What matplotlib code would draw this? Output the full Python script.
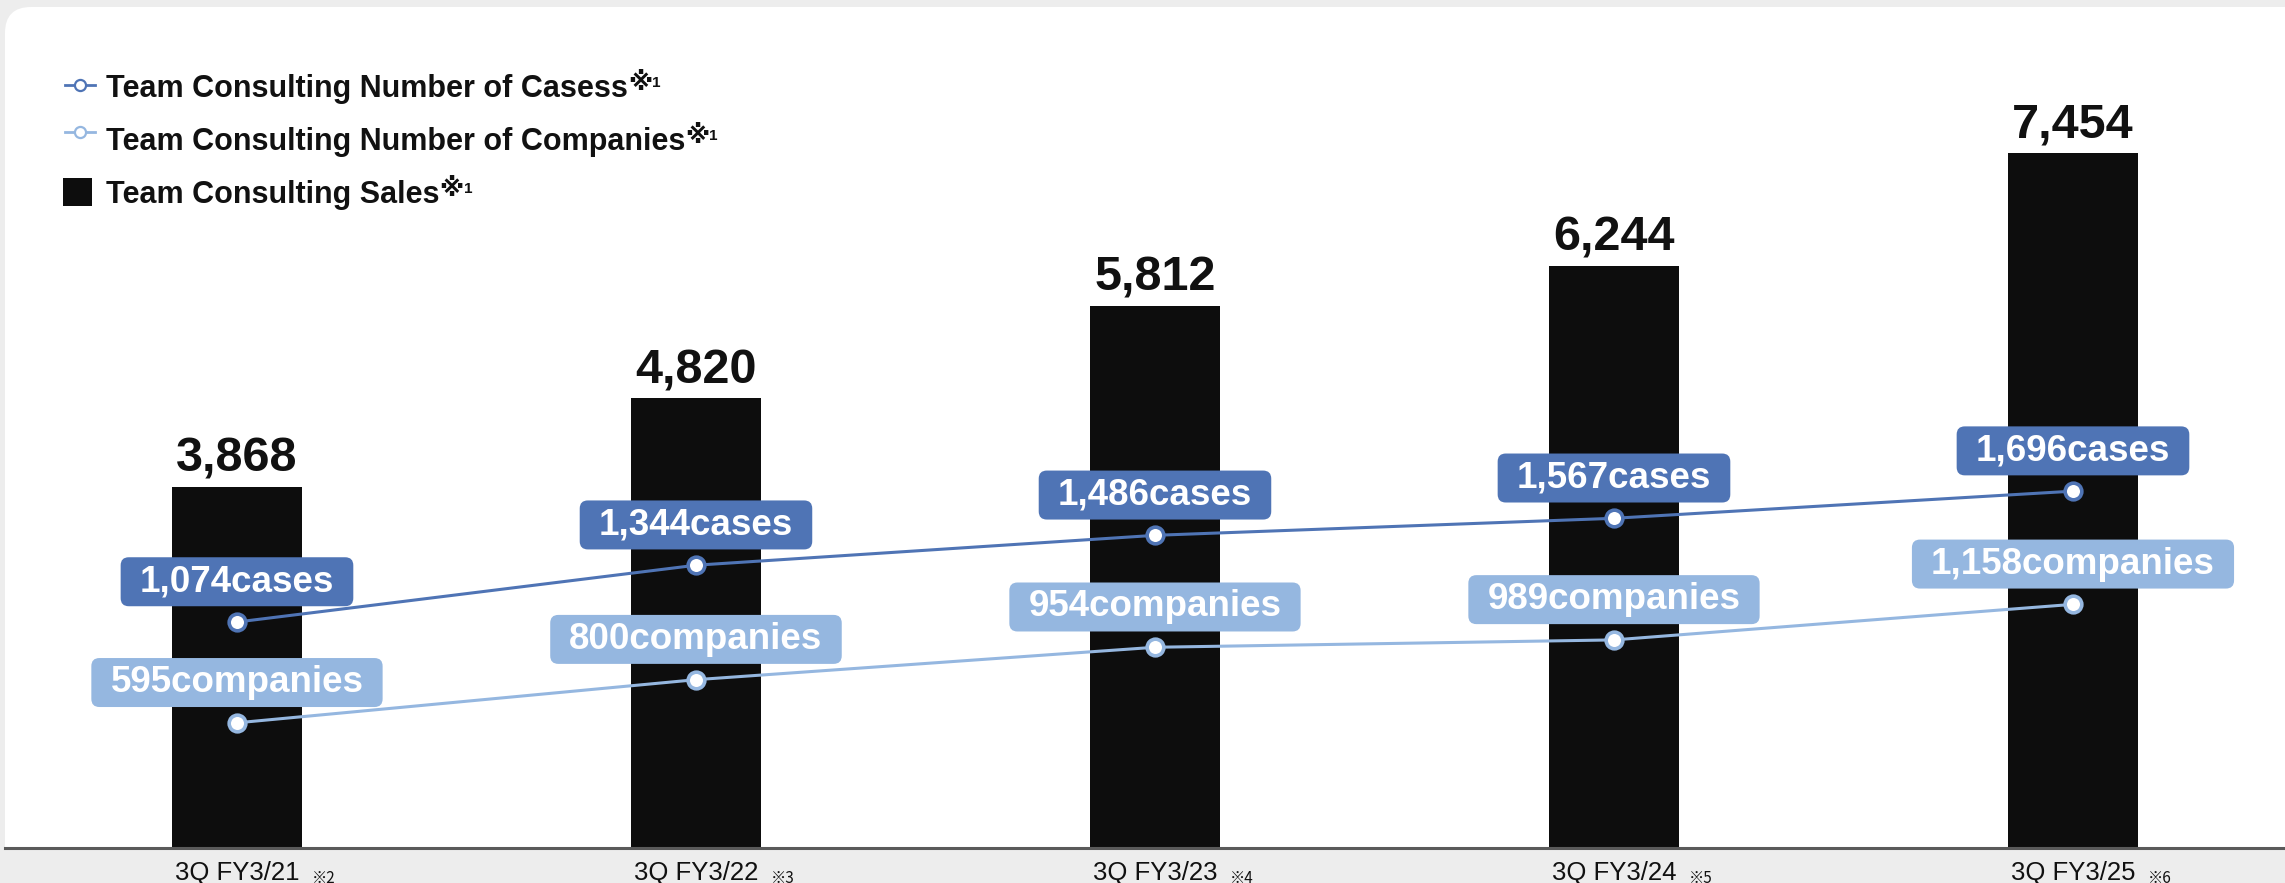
import matplotlib.pyplot as plt
from matplotlib.patches import FancyBboxPatch, Rectangle, BoxStyle
from matplotlib.lines import Line2D
from matplotlib.transforms import IdentityTransform

categories = ['3Q FY3/21', '3Q FY3/22', '3Q FY3/23', '3Q FY3/24', '3Q FY3/25']
notes = ['※2', '※3', '※4', '※5', '※6']
sales = [3868, 4820, 5812, 6244, 7454]
cases = [1074, 1344, 1486, 1567, 1696]
companies = [595, 800, 954, 989, 1158]

DARK = '#4f74b5'
LIGHT = '#95b7e0'
BAR = '#0d0d0d'
BG = '#ededed'
INK = '#111111'
CJK = ['Noto Sans CJK JP', 'DejaVu Sans']

plt.rcParams['font.family'] = ['Liberation Sans', 'DejaVu Sans']

W, H = 2285, 883
base = 848          # pixel row of the x axis line
top = 7             # top edge of the white panel

fig = plt.figure(figsize=(W / 100, H / 100), dpi=100, facecolor=BG)

# white rounded panel, with the strip under the axis painted back to grey
fig.add_artist(FancyBboxPatch((5, -20), W + 60, H - top + 20,
                              boxstyle='round,pad=0,rounding_size=26',
                              transform=IdentityTransform(), fc='white',
                              ec='none', zorder=-3))
fig.add_artist(Rectangle((0, 0), W, H - base, transform=IdentityTransform(),
                         fc=BG, ec='none', zorder=-2))


def label_box(x0, y0, width, height, mutation_size):
    # rounded box with more room left/right than top/bottom
    padx, pady = 0.52 * mutation_size, 0.19 * mutation_size
    rounded = BoxStyle.Round(pad=0, rounding_size=0.22)
    return rounded(x0 - padx, y0 - pady, width + 2 * padx,
                   height + 2 * pady, mutation_size)


ax = fig.add_axes([5 / W, (H - base) / H, (W - 5) / W, (base - top) / H])
ax.patch.set_visible(False)
x = list(range(len(categories)))

ax.bar(x, sales, width=0.285, color=BAR, zorder=2)
ax.set_xlim(-0.5054, 4.4619)
ax.set_ylim(0, 9017)
for i, v in enumerate(sales):
    ax.annotate(f'{v:,}', (i, v), xytext=(0, 11), textcoords='offset points',
                ha='center', va='baseline', fontsize=35, fontweight='bold',
                color=INK)

for s in ['top', 'left', 'right']:
    ax.spines[s].set_visible(False)
ax.spines['bottom'].set_color('#5a5a5a')
ax.spines['bottom'].set_linewidth(2.2)
ax.set_xticks([])
ax.set_yticks([])

# x labels with their footnote marks
for i, (cat, note) in enumerate(zip(categories, notes)):
    t = ax.text(i, -32 / (base - top), cat, transform=ax.get_xaxis_transform(),
                ha='center', va='baseline', fontsize=18.5, color=INK)
    ax.annotate(note, xy=(1, 0), xycoords=t, xytext=(9, 1.5),
                textcoords='offset points', ha='left', va='baseline',
                fontsize=11, color=INK, family=CJK)

ax2 = ax.twinx()
ax2.set_ylim(0, 3997)
ax2.set_yticks([])
for s in ax2.spines.values():
    s.set_visible(False)

for vals, color, unit in [(cases, DARK, 'cases'), (companies, LIGHT, 'companies')]:
    ax2.plot(x, vals, color=color, lw=2.2, marker='o', ms=12,
             mfc='white', mec=color, mew=2.6, zorder=3)
    for i, v in enumerate(vals):
        ax2.annotate(f'{v:,}{unit}', (i, v), xytext=(0, 29),
                     textcoords='offset points', ha='center', va='center',
                     fontsize=26.5, fontweight='bold', color='white', zorder=4,
                     bbox=dict(boxstyle=label_box, fc=color, ec='none'))


# legend
def fy(py):
    return 1 - py / H


def footnote(txt):
    mark = ax.annotate('※', xy=(1, 1), xycoords=txt, xytext=(0, 2.5),
                       textcoords='offset points', va='top', fontsize=18,
                       fontweight='bold', color=INK, family='DejaVu Sans')
    ax.annotate('1', xy=(1, 0.5), xycoords=mark, xytext=(0, 0),
                textcoords='offset points', va='center', fontsize=11,
                fontweight='bold', color=INK)


legend_rows = [
    ('Team Consulting Number of Casess', DARK, 97, 85),
    ('Team Consulting Number of Companies', LIGHT, 150, 132),
]
for label, color, baseline, my in legend_rows:
    fig.add_artist(Line2D([65 / W, 95 / W], [fy(my)] * 2, color=color, lw=2,
                          transform=fig.transFigure))
    fig.add_artist(Line2D([80 / W], [fy(my)], marker='o', ms=8, mfc='white',
                          mec=color, mew=1.6, transform=fig.transFigure))
    t = fig.text(106 / W, fy(baseline), label, va='baseline', fontsize=22,
                 fontweight='bold', color=INK)
    footnote(t)

fig.add_artist(Rectangle((63 / W, fy(206)), 29 / W, 28 / H, fc=BAR, ec='none',
                         transform=fig.transFigure))
t = fig.text(106 / W, fy(203), 'Team Consulting Sales', va='baseline',
             fontsize=22, fontweight='bold', color=INK)
footnote(t)

fig.savefig('out.png', dpi=100, facecolor=BG)
